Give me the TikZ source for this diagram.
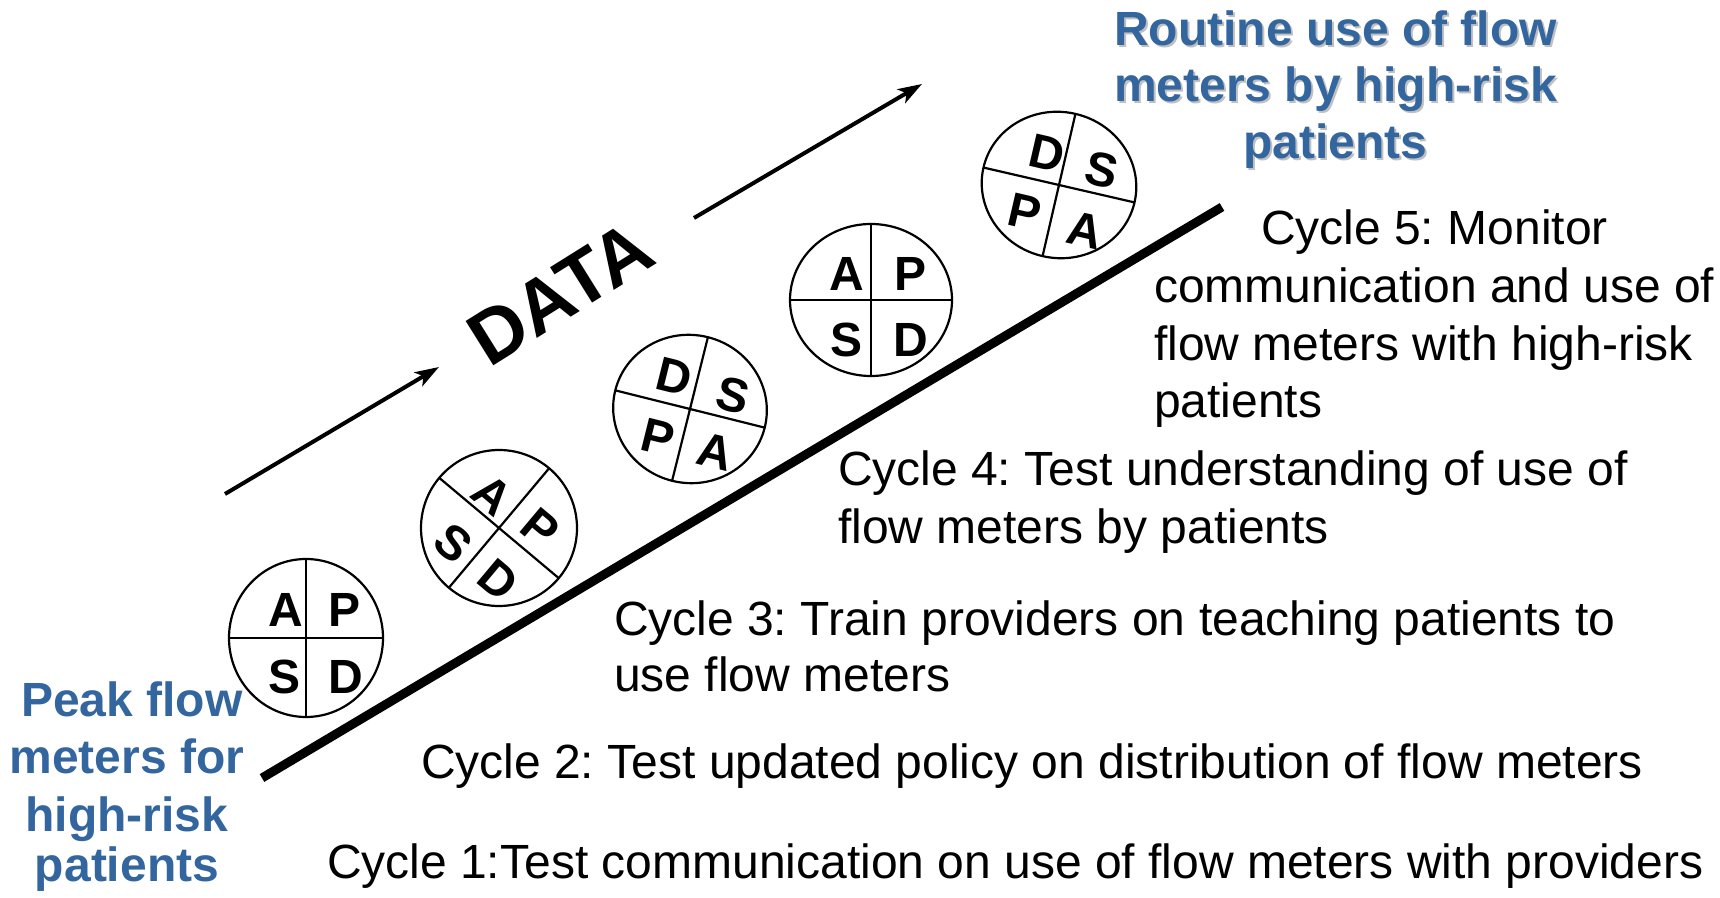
\documentclass[tikz,border=0pt]{standalone}
\usepackage{fontspec}
\setmainfont{Liberation Sans}
\usetikzlibrary{arrows.meta,shapes.geometric}
\definecolor{titleblue}{RGB}{51,102,158}
\definecolor{shadowgray}{RGB}{192,192,192}

\begin{document}
\frenchspacing
\begin{tikzpicture}[x=0.5pt,y=-0.5pt,
  every node/.style={inner sep=0pt,outer sep=0pt},
  cyc/.style={anchor=base west,font=\fontsize{24}{28}\selectfont},
  goal/.style={anchor=base,font=\bfseries\fontsize{24}{28}\selectfont,text=titleblue},
  goalshadow/.style={anchor=base,font=\bfseries\fontsize{24}{28}\selectfont,text=shadowgray},
  wheel/.style={draw,ellipse,line width=1.1pt},
  spoke/.style={line width=1.1pt},
  ltr/.style={font=\bfseries\fontsize{24}{28}\selectfont},
  datarrow/.style={line width=2pt,-{Stealth[length=12pt,width=8pt,inset=3pt]}},
  ramp/.style={line width=4.5pt}]
\useasboundingbox (0,0) rectangle (1720,898);

% rising ramp
\coordinate (r0) at (262,778);
\coordinate (r1) at (1222,207);
\draw[ramp] (r0) -- (r1);

% DATA arrows
\coordinate (a1s) at (225,494);
\coordinate (a1e) at (439,367);
\coordinate (a2s) at (694,218);
\coordinate (a2e) at (922,84);
\draw[datarrow] (a1s) -- (a1e);
\draw[datarrow] (a2s) -- (a2e);
\node[font=\bfseries\fontsize{38}{42}\selectfont,rotate=32] (data) at (560,293) {DATA};

% PDSA wheel 1
\node[wheel,minimum width=77pt,minimum height=79pt] (w1) at (306,638) {};
\draw[spoke] (w1.west) -- (w1.east);
\draw[spoke] (w1.north) -- (w1.south);
\node[ltr] (w1a) at (286,610) {A};
\node[ltr] (w1p) at (345,610) {P};
\node[ltr] (w1s) at (285,677) {S};
\node[ltr] (w1d) at (346,677) {D};

% PDSA wheel 2
\node[wheel,minimum width=78pt,minimum height=78pt,rotate=-40] (w2) at (499,528) {};
\draw[spoke] (w2.west) -- (w2.east);
\draw[spoke] (w2.north) -- (w2.south);
\node[ltr,rotate=-40] (w2a) at (492,495) {A};
\node[ltr,rotate=-40] (w2p) at (540,528) {P};
\node[ltr,rotate=-40] (w2s) at (453,543) {S};
\node[ltr,rotate=-40] (w2d) at (498,580) {D};

% PDSA wheel 3
\node[wheel,minimum width=77pt,minimum height=74pt,rotate=-14] (w3) at (690,409) {};
\draw[spoke] (w3.west) -- (w3.east);
\draw[spoke] (w3.north) -- (w3.south);
\node[ltr,rotate=-14] (w3d) at (674,377) {D};
\node[ltr,rotate=-14] (w3s) at (733,395) {S};
\node[ltr,rotate=-14] (w3p) at (658,437) {P};
\node[ltr,rotate=-14] (w3a) at (715,452) {A};

% PDSA wheel 4
\node[wheel,minimum width=81pt,minimum height=76pt] (w4) at (871,300) {};
\draw[spoke] (w4.west) -- (w4.east);
\draw[spoke] (w4.north) -- (w4.south);
\node[ltr] (w4a) at (847,274) {A};
\node[ltr] (w4p) at (910,274) {P};
\node[ltr] (w4s) at (847,340) {S};
\node[ltr] (w4d) at (911,340) {D};

% PDSA wheel 5
\node[wheel,minimum width=77.5pt,minimum height=73pt,rotate=-13] (w5) at (1059,185) {};
\draw[spoke] (w5.west) -- (w5.east);
\draw[spoke] (w5.north) -- (w5.south);
\node[ltr,rotate=-13] (w5d) at (1047,153) {D};
\node[ltr,rotate=-13] (w5s) at (1102,170) {S};
\node[ltr,rotate=-13] (w5p) at (1025,212) {P};
\node[ltr,rotate=-13] (w5a) at (1085,230) {A};

% cycle descriptions
\node[cyc] (c1) at (327,878) {Cycle 1:Test communication on use of flow meters with providers};
\node[cyc] (c2) at (421,778) {Cycle 2: Test updated policy on distribution of flow meters};
\node[cyc] (c3a) at (614,635) {Cycle 3: Train providers on teaching patients to};
\node[cyc] (c3b) at (614,691) {use flow meters};
\node[cyc] (c4a) at (838,486) {Cycle 4: Test understanding of use of};
\node[cyc] (c4b) at (838,544) {flow meters by patients};
\node[cyc] (c5a) at (1261,245) {Cycle 5: Monitor};
\node[cyc] (c5b) at (1154,303) {communication and use of};
\node[cyc] (c5c) at (1154,361) {flow meters with high-risk};
\node[cyc] (c5d) at (1154,418) {patients};

% starting point
\node[goal] (s1) at (132,716) {Peak flow};
\node[goal] (s2) at (127,773) {meters for};
\node[goal] (s3) at (127,831) {high-risk};
\node[goal] (s4) at (127,881) {patients};

% aim, with drop shadow
\node[goalshadow] (g1s) at (1337.5,48) {Routine use of flow};
\node[goalshadow] (g2s) at (1337.5,104) {meters by high-risk};
\node[goalshadow] (g3s) at (1337.5,161) {patients};
\node[goal] (g1) at (1335.5,46) {Routine use of flow};
\node[goal] (g2) at (1335.5,102) {meters by high-risk};
\node[goal] (g3) at (1335.5,159) {patients};
\end{tikzpicture}
\end{document}
